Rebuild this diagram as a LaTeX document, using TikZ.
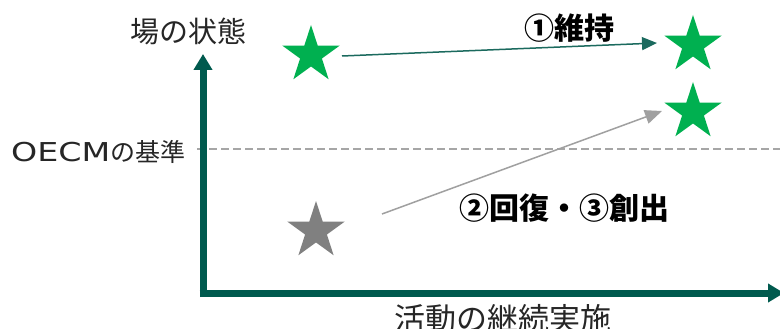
\documentclass[tikz,border=0pt]{standalone}
\usepackage{fontspec}
\setmainfont{Noto Sans CJK JP}
\newfontfamily\jp{Noto Sans CJK JP}
\newfontfamily\latinwide{DejaVu Sans}
\usetikzlibrary{arrows.meta,shapes.geometric}
\definecolor{axisteal}{HTML}{005A4E}
\definecolor{arrowteal}{HTML}{1B6A5E}
\definecolor{stargreen}{HTML}{00B050}
\definecolor{stargray}{HTML}{808080}
\definecolor{arrowgray}{HTML}{A0A0A0}
\definecolor{dashgray}{HTML}{A6A6A6}
\tikzset{
  axisline/.style={draw=axisteal,line width=7pt,-{Triangle[length=16pt,width=18pt]}},
  lbl/.style={inner sep=0pt,font=\jp\fontsize{29}{34}\selectfont,text=black!85},
  reflbl/.style={inner sep=0pt,font=\jp\fontsize{25}{29}\selectfont,text=black!85},
  biglbl/.style={inner sep=0pt,font=\jp\fontsize{31}{36}\selectfont,text=black!85},
  boldlbl/.style={inner sep=0pt,font=\jp\bfseries\fontsize{30}{35}\selectfont,text=black},
  starshape/.style={star,star points=5,star point ratio=2.618,minimum size=60pt,inner sep=0pt,draw=none},
  greenstar/.style={starshape,fill=stargreen},
  graystar/.style={starshape,fill=stargray},
  keeparrow/.style={draw=arrowteal,line width=1.5pt,-{Triangle[length=15pt,width=13pt]}},
  movearrow/.style={draw=arrowgray,line width=1.5pt,-{Triangle[length=17pt,width=14pt]}},
  refline/.style={draw=dashgray,line width=1.2pt,dash pattern=on 8pt off 4pt}
}
\begin{document}
\begin{tikzpicture}[x=1pt,y=-1pt]
\useasboundingbox[fill=white] (0,0) rectangle (780,329);
% reference line
\coordinate (dashL) at (197,149);
\coordinate (dashR) at (780,149);
\draw[refline] (dashL) -- (dashR);
% axes
\coordinate (origin) at (203,297);
\coordinate (ytip) at (203,54);
\coordinate (xstart) at (199.5,293);
\coordinate (xtip) at (784,293);
\draw[axisline] (origin) -- (ytip);
\draw[axisline] (xstart) -- (xtip);
% labels
\node[lbl] (ylabel) at (188,31) {場の状態};
\node[reflbl,anchor=west] (oecm) at (11,152)
  {{\latinwide\fontsize{26}{30}\selectfont\scalebox{1.28}[1]{OECM}}の基準};
\node[biglbl] (xlabel) at (503,319) {活動の継続実施};
\node[boldlbl] (keep) at (569,28) {①維持};
\node[boldlbl] (restore) at (564,208) {②回復・③創出};
% stars
\node[greenstar] (s1) at (311,55) {};
\node[greenstar] (s2) at (693,45) {};
\node[greenstar] (s3) at (693,112) {};
\node[graystar] (s4) at (316,231) {};
% arrows
\coordinate (a1s) at (342,56);
\coordinate (a1e) at (657,43);
\coordinate (a2s) at (382,214);
\coordinate (a2e) at (662,111);
\draw[keeparrow] (a1s) -- (a1e);
\draw[movearrow] (a2s) -- (a2e);
\end{tikzpicture}
\end{document}
